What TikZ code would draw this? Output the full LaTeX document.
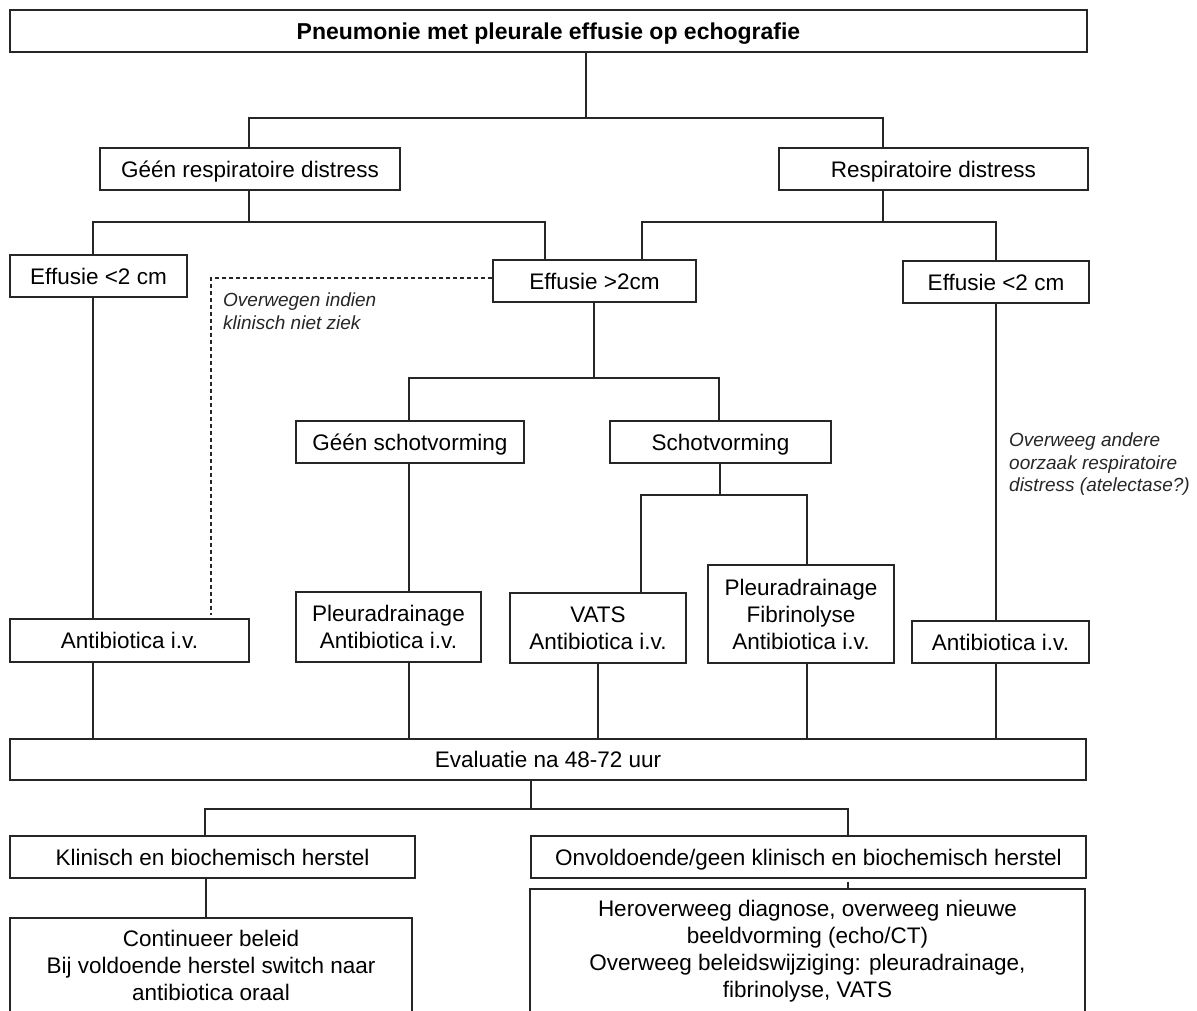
\documentclass[tikz,border=0pt]{standalone}
\usepackage{fontspec}
\setmainfont{Liberation Sans}
\begin{document}
\begin{tikzpicture}[x=1pt,y=-1pt,
  box/.style={draw=black!85, line width=1.2pt, fill=white, inner sep=0pt,
    align=center, text=black, font=\fontsize{22.5}{27}\selectfont},
  % single-line boxes: centre the capitals, not the descenders
  oneline/.style={box, text height=16.1pt, text depth=0pt},
  wire/.style={draw=black!85, line width=1.2pt},
  note/.style={font=\fontsize{19}{22.5}\selectfont\itshape, align=left,
    inner sep=0pt, text=black!85, anchor=north west}]
\clip (0,0) rectangle (1197,1010);
\fill[white] (0,0) rectangle (1197,1010);

% boxes
\node[oneline, minimum width=1077pt, minimum height=42pt, text height=16.5pt,
  font=\fontsize{23}{27}\selectfont\bfseries] (top) at (548.5,31)
  {Pneumonie met pleurale effusie op echografie};
\node[oneline, minimum width=300pt, minimum height=42pt] (geen) at (250,169) {Géén respiratoire distress};
\node[oneline, minimum width=309pt, minimum height=42pt] (resp) at (933.5,169) {Respiratoire distress};
\node[oneline, minimum width=177pt, minimum height=42pt] (eff1) at (98.5,276) {Effusie <2 cm};
\node[oneline, minimum width=203pt, minimum height=42pt] (eff2) at (594.5,281) {Effusie >2cm};
\node[oneline, minimum width=186pt, minimum height=42pt] (eff3) at (996,282) {Effusie <2 cm};
\node[oneline, minimum width=228pt, minimum height=42pt] (geensch) at (410,442) {Géén schotvorming};
\node[oneline, minimum width=221pt, minimum height=42pt] (sch) at (720.5,442) {Schotvorming};
\node[box, minimum width=185pt, minimum height=70pt] (pl1) at (388.5,627) {Pleuradrainage\\Antibiotica i.v.};
\node[box, minimum width=176pt, minimum height=70pt] (vats) at (598,628) {VATS\\Antibiotica i.v.};
\node[box, minimum width=186pt, minimum height=98pt] (plf) at (801,614) {Pleuradrainage\\Fibrinolyse\\Antibiotica i.v.};
\node[oneline, minimum width=239pt, minimum height=43pt] (ab1) at (129.5,640.5) {Antibiotica i.v.};
\node[oneline, minimum width=177pt, minimum height=42pt] (ab3) at (1000.5,642) {Antibiotica i.v.};
\node[oneline, minimum width=1076pt, minimum height=41pt] (eval) at (548,759.5) {Evaluatie na 48-72 uur};
\node[oneline, minimum width=405pt, minimum height=42pt] (klin) at (212.5,857) {Klinisch en biochemisch herstel};
\node[oneline, minimum width=555pt, minimum height=42pt] (onv) at (808.5,857) {Onvoldoende/geen klinisch en biochemisch herstel};
\node[box, minimum width=402pt, minimum height=95pt] (cont) at (211,965.5)
  {Continueer beleid\\Bij voldoende herstel switch naar\\antibiotica oraal};
\node[box, minimum width=555pt, minimum height=125pt] (hero) at (807.5,951.5)
  {Heroverweeg diagnose, overweeg nieuwe\\beeldvorming (echo/CT)\\Overweeg beleidswijziging: pleuradrainage,\\fibrinolyse, VATS};

% side notes
\node[note] (n1) at (223,293) {Overwegen indien\\klinisch niet ziek};
\node[note] (n2) at (1009,433) {Overweeg andere\\oorzaak respiratoire\\distress (atelectase?)};

% rails (y) and columns (x) of the connectors
\coordinate (r1) at (0,118);
\coordinate (r2) at (0,222);
\coordinate (rd) at (0,278);
\coordinate (r3) at (0,378);
\coordinate (r4) at (0,495);
\coordinate (r5) at (0,809);
\foreach \c in {93,205,206,211,249,409,531,545,586,594,598,641,642,719,720,807,848,883,996}
  \coordinate (c\c) at (\c,0);

% connectors
\draw[wire] (top.south -| c586) -- (c586 |- r1);
\draw[wire] (geen.north -| c249) -- (c249 |- r1) -- (c883 |- r1) -- (resp.north -| c883);

\draw[wire] (geen.south -| c249) -- (c249 |- r2);
\draw[wire] (eff1.north -| c93) -- (c93 |- r2) -- (c545 |- r2) -- (eff2.north -| c545);
\draw[wire] (resp.south -| c883) -- (c883 |- r2);
\draw[wire] (eff2.north -| c642) -- (c642 |- r2) -- (c996 |- r2) -- (eff3.north -| c996);

\draw[wire] (eff2.south -| c594) -- (c594 |- r3);
\draw[wire] (geensch.north -| c409) -- (c409 |- r3) -- (c719 |- r3) -- (sch.north -| c719);
\draw[wire] (sch.south -| c720) -- (c720 |- r4);
\draw[wire] (vats.north -| c641) -- (c641 |- r4) -- (c807 |- r4) -- (plf.north -| c807);

\draw[wire] (geensch.south -| c409) -- (pl1.north -| c409);
\draw[wire] (eff1.south -| c93) -- (ab1.north -| c93);
\draw[wire] (eff3.south -| c996) -- (ab3.north -| c996);
\draw[wire, dash pattern=on 4pt off 3pt, shorten >=3pt]
  (eff2.west |- rd) -- (c211 |- rd) -- (ab1.north -| c211);

\draw[wire] (ab1.south -| c93) -- (eval.north -| c93);
\draw[wire] (pl1.south -| c409) -- (eval.north -| c409);
\draw[wire] (vats.south -| c598) -- (eval.north -| c598);
\draw[wire] (plf.south -| c807) -- (eval.north -| c807);
\draw[wire] (ab3.south -| c996) -- (eval.north -| c996);

\draw[wire] (eval.south -| c531) -- (c531 |- r5);
\draw[wire] (klin.north -| c205) -- (c205 |- r5) -- (c848 |- r5) -- (onv.north -| c848);
\draw[wire] (klin.south -| c206) -- (cont.north -| c206);
\draw[wire, shorten <=3pt] (onv.south -| c848) -- (hero.north -| c848);
\end{tikzpicture}
\end{document}
